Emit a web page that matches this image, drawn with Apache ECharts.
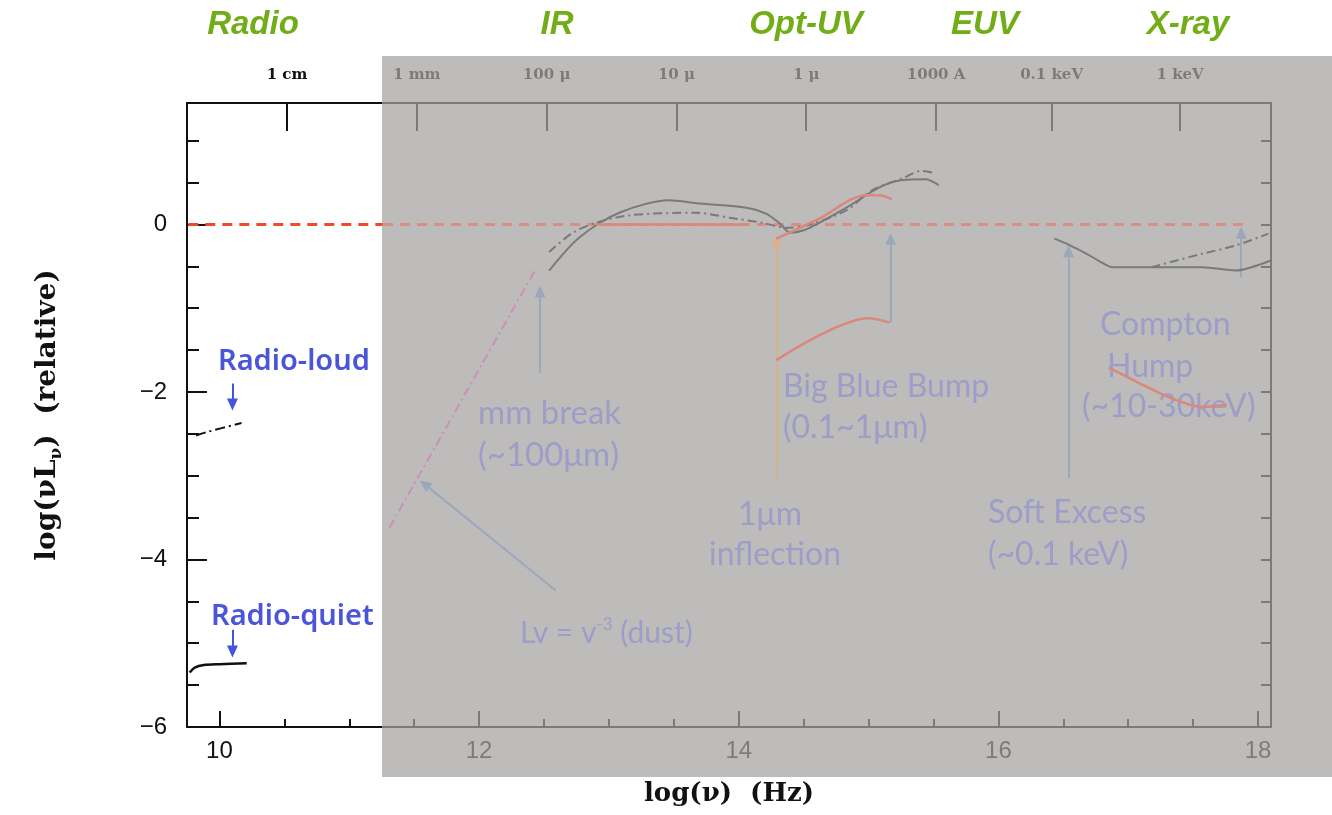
<!DOCTYPE html>
<html>
<head>
<meta charset="utf-8">
<title>AGN SED</title>
<script src="https://cdn.jsdelivr.net/npm/echarts/dist/echarts.min.js"></script>
<style>
  html, body { margin: 0; padding: 0; background: #fff; }
  #chart { width: 1332px; height: 815px; }
</style>
</head>
<body>
<div id="chart"></div>
<script>
// axis ticks
const xMinorTicks = [10, 10.5, 11, 11.5, 12, 12.5, 13, 13.5, 14, 14.5, 15, 15.5, 16, 16.5, 17, 17.5, 18]
const xMajorTicks = [10, 12, 14, 16, 18]
const yMinorTicks = [-6, -5.5, -5, -4.5, -4, -3.5, -3, -2.5, -2, -1.5, -1, -0.5, 0, 0.5, 1]
const yMajorTicks = [-6, -4, -2, 0]
const topTickValues = [10.52, 11.52, 12.52, 13.52, 14.52, 15.52, 16.41, 17.4]
const topTickLabels = ['1 cm', '1 mm', '100 μ', '10 μ', '1 μ', '1000 A', '0.1 keV', '1 keV']

// reference level (bright on the white part, faded under the grey box)
const refLeftX = [9.76, 11.26]
const refRightX = [11.26, 17.93]
const refY = [0, 0]

// radio
const radioLoudX = [9.82, 9.9, 10.17]
const radioLoudY = [-2.52, -2.48, -2.37]
const radioQuietX = [9.77, 9.81, 9.88, 10.0, 10.21]
const radioQuietY = [-5.35, -5.29, -5.26, -5.25, -5.24]

// IR - UV mean SEDs
const irSolidX = [12.54, 12.66, 12.77, 12.93, 13.08, 13.27, 13.46, 13.7, 14.06, 14.21, 14.31, 14.4, 14.5, 14.62, 14.83, 15.08, 15.26, 15.44, 15.54]
const irSolidY = [-0.55, -0.33, -0.16, 0.02, 0.14, 0.24, 0.29, 0.25, 0.2, 0.13, 0.02, -0.1, -0.07, 0.02, 0.2, 0.44, 0.53, 0.54, 0.47]
const irDashX = [12.54, 12.72, 12.9, 13.16, 13.67, 13.93, 14.18, 14.37, 14.57, 14.83, 15.03, 15.26, 15.41, 15.49]
const irDashY = [-0.33, -0.1, 0.02, 0.11, 0.14, 0.08, 0.02, -0.04, 0.01, 0.17, 0.41, 0.55, 0.64, 0.62]

// X-ray
const xraySolidX = [16.43, 16.54, 16.68, 16.78, 16.88, 17.18, 17.57, 17.83, 17.95, 18.1]
const xraySolidY = [-0.17, -0.24, -0.35, -0.44, -0.51, -0.51, -0.51, -0.55, -0.51, -0.43]
const xrayDashX = [17.18, 17.57, 17.83, 18.08]
const xrayDashY = [-0.51, -0.35, -0.25, -0.11]

// red model pieces
const redFlatX = [12.9, 14.06]
const redFlatY = [0, 0]
const redRiseX = [14.29, 14.62, 14.98, 15.08, 15.18]
const redRiseY = [-0.17, 0.07, 0.35, 0.35, 0.3]
const bbbX = [14.29, 15.0, 15.16]
const bbbY = [-1.62, -1.12, -1.17]
const comptonX = [16.85, 17.08, 17.31, 17.57, 17.76]
const comptonY = [-1.71, -1.89, -2.06, -2.18, -2.15]

// dust slope
const dustX = [11.31, 12.43]
const dustY = [-3.62, -0.55]

// annotation arrows [x1, y1, x2, y2]
const greyArrows = [
  [12.47, -1.77, 12.47, -0.8],
  [12.59, -4.37, 11.58, -3.1],
  [15.17, -1.17, 15.17, -0.17],
  [16.54, -3.03, 16.54, -0.32],
  [17.87, -0.63, 17.87, -0.1]
]
const orangeArrows = [[14.29, -3.03, 14.29, -0.2]]
const blueArrows = [
  [10.1, -1.9, 10.1, -2.15],
  [10.1, -4.84, 10.1, -5.1]
]

const pairs = (xs, ys) => xs.map((x, i) => [x, ys[i]])

const arrowLines = (list, color, width) => list.map(a => [
  { coord: [a[0], a[1]], lineStyle: { color: color, width: width, type: 'solid' } },
  { coord: [a[2], a[3]] }
])

const chart = echarts.init(document.getElementById('chart'))

const serif = 'DejaVu Serif'
const lavender = '#9c9dc9'
const salmon = '#d9887b'
const grey = '#7a7a7a'

const lineSeries = (data, color, width, type, z, smooth) => ({
  type: 'line',
  data: data,
  symbol: 'none',
  smooth: smooth === undefined ? 0.3 : smooth,
  z: z,
  lineStyle: { color: color, width: width, type: type },
  silent: true
})

const dashDot = [9, 4, 2, 4]

const option = {
  animation: false,
  grid: { left: 187, top: 103, width: 1084, height: 624 },
  xAxis: [
    {
      type: 'value', min: 9.75, max: 18.1, position: 'bottom',
      axisLine: { onZero: false, lineStyle: { color: '#111', width: 2 } },
      axisTick: { inside: true, length: 8, customValues: xMinorTicks, lineStyle: { color: '#111', width: 2 } },
      axisLabel: { show: false },
      splitLine: { show: false },
      name: 'log(ν)  (Hz)', nameLocation: 'middle', nameGap: 54,
      nameTextStyle: { fontFamily: serif, fontWeight: 'bold', fontSize: 26, color: '#111' }
    },
    {
      type: 'value', min: 9.75, max: 18.1, position: 'bottom',
      axisLine: { show: false, onZero: false },
      axisTick: { inside: true, length: 16, customValues: xMajorTicks, lineStyle: { color: '#111', width: 2 } },
      axisLabel: { customValues: xMajorTicks, margin: 12, fontSize: 24, color: '#111', fontFamily: 'Liberation Sans' },
      splitLine: { show: false }
    },
    {
      type: 'value', min: 9.75, max: 18.1, position: 'top',
      axisLine: { onZero: false, lineStyle: { color: '#111', width: 2 } },
      axisTick: { inside: true, length: 28, customValues: topTickValues, lineStyle: { color: '#111', width: 2 } },
      axisLabel: {
        customValues: topTickValues, margin: 20,
        fontFamily: serif, fontWeight: 'bold', fontSize: 15, color: '#111',
        formatter: v => {
          const i = topTickValues.findIndex(t => Math.abs(t - v) < 1e-6)
          return i >= 0 ? topTickLabels[i] : ''
        }
      },
      splitLine: { show: false }
    }
  ],
  yAxis: [
    {
      type: 'value', min: -6, max: 1.45, position: 'left',
      axisLine: { onZero: false, lineStyle: { color: '#111', width: 2 } },
      axisTick: { inside: true, length: 12, customValues: yMinorTicks, lineStyle: { color: '#111', width: 2 } },
      axisLabel: { show: false },
      splitLine: { show: false },
      name: '{a|log(νL}{s|ν}{a|)  (relative)}', nameLocation: 'middle', nameGap: 122,
      nameTextStyle: {
        rich: {
          a: { fontFamily: serif, fontWeight: 'bold', fontSize: 28, color: '#111', lineHeight: 34 },
          s: { fontFamily: serif, fontWeight: 'bold', fontSize: 17, color: '#111', verticalAlign: 'bottom', lineHeight: 34 }
        }
      }
    },
    {
      type: 'value', min: -6, max: 1.45, position: 'left',
      axisLine: { show: false, onZero: false },
      axisTick: { inside: true, length: 20, customValues: yMajorTicks, lineStyle: { color: '#111', width: 2 } },
      axisLabel: {
        customValues: yMajorTicks, margin: 20, fontSize: 24, color: '#111', fontFamily: 'Liberation Sans',
        formatter: v => (v < 0 ? '−' + Math.abs(v) : String(v))
      },
      splitLine: { show: false }
    },
    {
      type: 'value', min: -6, max: 1.45, position: 'right',
      axisLine: { onZero: false, lineStyle: { color: '#111', width: 2 } },
      axisTick: { inside: true, length: 10, customValues: yMinorTicks, lineStyle: { color: '#111', width: 2 } },
      axisLabel: { show: false },
      splitLine: { show: false }
    }
  ],
  series: [
    lineSeries(pairs(refLeftX, refY), '#ef4a2a', 3, [10, 7], 2, false),
    lineSeries(pairs(refRightX, refY), '#d98f84', 3, [10, 7], 5, false),
    lineSeries(pairs(radioLoudX, radioLoudY), '#111', 2, [10, 4, 2, 4], 2),
    lineSeries(pairs(radioQuietX, radioQuietY), '#111', 2.5, 'solid', 2),
    lineSeries(pairs(irSolidX, irSolidY), grey, 2, 'solid', 5),
    lineSeries(pairs(irDashX, irDashY), grey, 2, dashDot, 5),
    lineSeries(pairs(xraySolidX, xraySolidY), grey, 2, 'solid', 5),
    lineSeries(pairs(xrayDashX, xrayDashY), grey, 2, dashDot, 5),
    lineSeries(pairs(redFlatX, redFlatY), salmon, 2.5, 'solid', 5),
    lineSeries(pairs(redRiseX, redRiseY), salmon, 2.5, 'solid', 5),
    lineSeries(pairs(bbbX, bbbY), salmon, 2.5, 'solid', 5),
    lineSeries(pairs(comptonX, comptonY), salmon, 2.5, 'solid', 7),
    lineSeries(pairs(dustX, dustY), '#cf8cbc', 2, dashDot, 5),
    {
      type: 'line', data: [], z: 5, silent: true,
      markLine: {
        silent: true, animation: false,
        symbol: ['none', 'triangle'], symbolSize: [11, 12],
        label: { show: false },
        data: arrowLines(greyArrows, '#9aa8bc', 2)
          .concat(arrowLines(orangeArrows, '#d9b089', 2))
          .concat(arrowLines(blueArrows, '#4455dd', 2))
      }
    }
  ],
  graphic: [
    {
      type: 'rect', left: 382, top: 56, z: 3, silent: true,
      shape: { width: 950, height: 721 },
      style: { fill: 'rgba(164,163,160,0.73)' }
    }
  ]
}

// band names along the top
const bands = [['Radio', 253], ['IR', 557], ['Opt-UV', 806], ['EUV', 985], ['X-ray', 1188]]
bands.forEach(b => option.graphic.push({
  type: 'text', x: b[1], y: 25, z: 6, silent: true,
  style: {
    text: b[0], fill: '#70ad17', align: 'center', verticalAlign: 'middle',
    textAlign: 'center', textVerticalAlign: 'middle',
    font: 'italic bold 33px "Liberation Sans"'
  }
}))

// callout texts
const notes = [
  ['Radio-loud', 218, 362, 'left', '#4a55d9', '600 29px "Noto Sans"'],
  ['Radio-quiet', 211, 617, 'left', '#4a55d9', '600 29px "Noto Sans"'],
  ['mm break', 478, 413, 'left', lavender, '33px Lato'],
  ['(~100μm)', 478, 455, 'left', lavender, '33px Lato'],
  ['Big Blue Bump', 783, 387, 'left', lavender, '32px Lato'],
  ['(0.1~1μm)', 783, 428, 'left', lavender, '32px Lato'],
  ['1μm', 770, 515, 'center', lavender, '32px Lato'],
  ['inflection', 775, 555, 'center', lavender, '32px Lato'],
  ['Soft Excess', 988, 513, 'left', lavender, '32px Lato'],
  ['(~0.1 keV)', 988, 555, 'left', lavender, '32px Lato'],
  ['Compton', 1100, 325, 'left', lavender, '32px Lato'],
  ['Hump', 1107, 367, 'left', lavender, '32px Lato'],
  ['(~10-30keV)', 1082, 407, 'left', lavender, '32px Lato']
]
notes.forEach(n => option.graphic.push({
  type: 'text', x: n[1], y: n[2], z: 6, silent: true,
  style: {
    text: n[0], fill: n[4], align: n[3], verticalAlign: 'middle',
    textAlign: n[3], textVerticalAlign: 'middle', font: n[5]
  }
}))

// dust label with superscript
option.graphic.push({
  type: 'text', x: 520, y: 633, z: 6, silent: true,
  style: {
    text: '{n|Lv = v}{p|-3}{n| (dust)}',
    align: 'left', verticalAlign: 'middle', textAlign: 'left', textVerticalAlign: 'middle',
    rich: {
      n: { fill: lavender, color: lavender, fontFamily: 'Lato', fontSize: 30, lineHeight: 34 },
      p: { fill: lavender, color: lavender, fontFamily: 'Lato', fontSize: 17, lineHeight: 34, verticalAlign: 'top' }
    }
  }
})

chart.setOption(option)
</script>
</body>
</html>
